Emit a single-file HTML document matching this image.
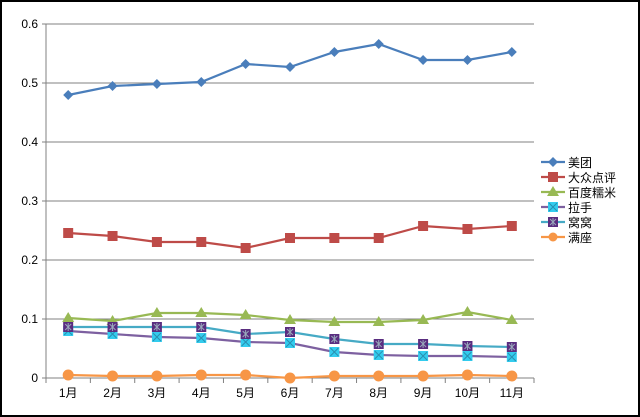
<!DOCTYPE html>
<html><head><meta charset="utf-8"><style>
html,body{margin:0;padding:0;background:#fff}
svg{display:block}
text{font-family:"Liberation Sans","Noto Sans CJK SC",sans-serif;font-size:12px;fill:#000}
</style></head><body>
<svg id="s" width="640" height="417" xmlns="http://www.w3.org/2000/svg">
<rect x="1" y="1" width="638" height="415" fill="#fff" stroke="#000" stroke-width="2"/>
</svg>
<script>
const s=document.getElementById('s');let h='';
const y0=378,sc=590,xl=46,xr=534,n=11,w=(xr-xl)/n;
for(let i=0;i<=6;i++){const y=y0-i*59;h+=`<line x1="${xl-4}" y1="${y}" x2="${i==0?xr:xr}" y2="${y}" stroke="${i==0?'#808080':'#808080'}" stroke-width="1"/>`;
h+=`<text x="38" y="${y+4}" text-anchor="end">${i==0?'0':'0.'+i}</text>`;}
h+=`<line x1="${xl}" y1="24" x2="${xl}" y2="${y0}" stroke="#808080"/>`;
for(let i=0;i<=n;i++){const x=xl+i*w;h+=`<line x1="${x}" y1="${y0}" x2="${x}" y2="${y0+5}" stroke="#808080"/>`;}
const cx=i=>xl+w/2+i*w;
for(let i=0;i<n;i++)h+=`<text x="${cx(i)}" y="397" text-anchor="middle">${i+1}月</text>`;
const S=[
['美团','#4a7ebb','#4a7ebb','d',[95,86,84,82,64,67,52,44,60,60,52]],
['大众点评','#be4b48','#be4b48','s',[233,236,242,242,248,238,238,238,226,229,226]],
['百度糯米','#98b954','#98b954','t',[318,321,313,313,315,320,322,322,320,312,320]],
['拉手','#7d60a0','#33ccee','x',[331,334,337,338,342,343,352,355,356,356,357]],
['窝窝','#46aac5','#5a2d80','q',[327,327,327,327,334,332,339,344,344,346,347]],
['满座','#f79646','#f79646','c',[375,376,376,375,375,378,376,376,376,375,376]]];
function mk(t,x,y,c){
 if(t=='d')return `<polygon points="${x},${y-5} ${x+5},${y} ${x},${y+5} ${x-5},${y}" fill="${c}"/>`;
 if(t=='s')return `<rect x="${x-5}" y="${y-5}" width="10" height="10" fill="${c}"/>`;
 if(t=='t')return `<polygon points="${x},${y-6} ${x+6},${y+4} ${x-6},${y+4}" fill="${c}"/>`;
 if(t=='x')return `<rect x="${x-5}" y="${y-5}" width="10" height="10" fill="${c}"/><path d="M${x-4} ${y-4}L${x+4} ${y+4}M${x+4} ${y-4}L${x-4} ${y+4}" stroke="#2a8fb0" stroke-width="1"/>`;
 if(t=='q')return `<rect x="${x-5}" y="${y-5}" width="10" height="10" fill="${c}"/><path d="M${x-3} ${y-3}L${x+3} ${y+3}M${x+3} ${y-3}L${x-3} ${y+3}M${x} ${y-4}L${x} ${y+4}" stroke="#9ab" stroke-width="1"/>`;
 return `<circle cx="${x}" cy="${y}" r="5.5" fill="${c}"/>`;}
S.forEach(([nm,lc,mc,t,v],k)=>{
 h+=`<polyline fill="none" stroke="${lc}" stroke-width="2.2" points="${v.map((y,i)=>cx(i)+','+y).join(' ')}"/>`;
 v.forEach((y,i)=>h+=mk(t,cx(i),y,mc));
 const ly=162+k*15;
 h+=`<line x1="541" y1="${ly}" x2="565" y2="${ly}" stroke="${lc}" stroke-width="2.2"/>`+mk(t,553,ly,mc).replace(/r="5.5"/,'r="4.5"');
 h+=`<text x="568" y="${ly+5}">${nm}</text>`;});
s.insertAdjacentHTML('beforeend',h);
</script>
</body></html>
